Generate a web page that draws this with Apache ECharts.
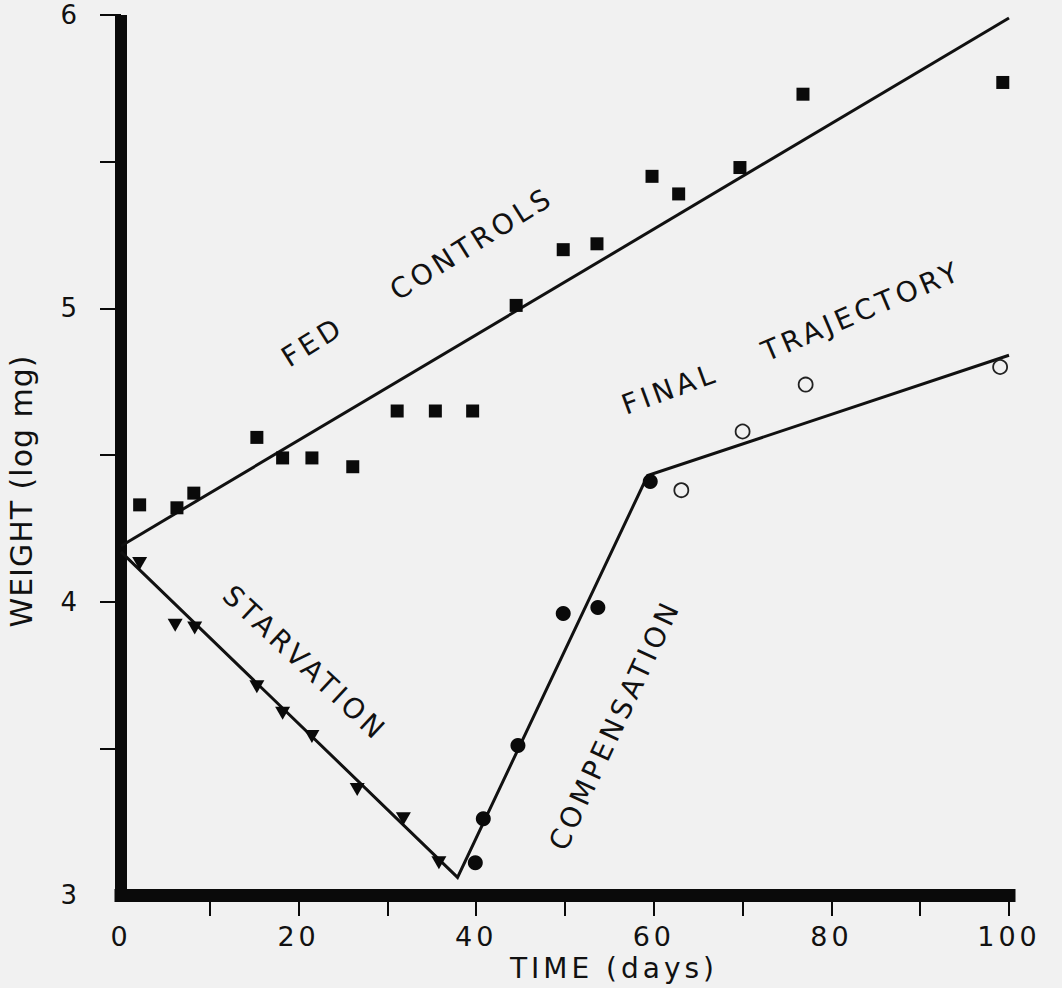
<!DOCTYPE html>
<html>
<head>
<meta charset="utf-8">
<script src="https://cdn.jsdelivr.net/npm/echarts@6/dist/echarts.min.js"></script>
<style>
html,body{margin:0;padding:0;background:#f1f1f1;}
#chart{width:1062px;height:988px;}
#chart text{letter-spacing:4px;}
#chart text[style*="30px"]{letter-spacing:1px;}
</style>
</head>
<body>
<div id="chart"></div>
<script>
// Axis ticks / labels
const xTickLabels = [0, 20, 40, 60, 80, 100];
const xTicks = [10, 20, 30, 40, 50, 60, 70, 80, 90, 100];
const yTickLabels = [3, 4, 5, 6];
const yTicks = [3.5, 4, 4.5, 5, 5.5, 6];

// Fed controls (squares)
const fedDays   = [2.1, 6.3, 8.2, 15.3, 18.2, 21.5, 26.1, 31.1, 35.4, 39.6, 44.5, 49.8, 53.6, 59.8, 62.8, 69.7, 76.8, 99.3];
const fedWeight = [4.33, 4.32, 4.37, 4.56, 4.49, 4.49, 4.46, 4.65, 4.65, 4.65, 5.01, 5.20, 5.22, 5.45, 5.39, 5.48, 5.73, 5.77];
// Starvation (down triangles)
const starvDays   = [2.1, 6.1, 8.3, 15.3, 18.2, 21.5, 26.6, 31.8, 35.8];
const starvWeight = [4.13, 3.92, 3.91, 3.71, 3.62, 3.54, 3.36, 3.26, 3.11];
// Compensation (filled circles)
const compDays   = [39.9, 40.8, 44.7, 49.8, 53.7, 59.6];
const compWeight = [3.11, 3.26, 3.51, 3.96, 3.98, 4.41];
// Final trajectory (open circles)
const finalDays   = [63.1, 70.0, 77.1, 99.0];
const finalWeight = [4.38, 4.58, 4.74, 4.80];
// Fitted lines
const fedLineDays   = [0, 100];
const fedLineWeight = [4.19, 5.99];
const trajLineDays   = [0, 37.9, 59.3, 100];
const trajLineWeight = [4.17, 3.06, 4.43, 4.84];
// Annotations
const noteText   = ['FED', 'CONTROLS', 'FINAL', 'TRAJECTORY', 'STARVATION', 'COMPENSATION'];
const noteDays   = [21.6, 39.5, 61.8, 83.4, 20.7, 55.6];
const noteWeight = [4.885, 5.22, 4.725, 4.99, 3.79, 3.58];
const noteAngle  = [32, 32, 20, 23, -43, 65];

const zip = (a, b) => a.map((v, i) => [v, b[i]]);
const FONT = 'DejaVu Sans';
const INK = '#111';
const MARK = '#0a0a0a';

const chart = echarts.init(document.getElementById('chart'), null, {renderer: 'svg'});
chart.setOption({
  backgroundColor: '#f1f1f1',
  animation: false,
  grid: {left: 121, right: 53, top: 15, bottom: 93, containLabel: false, outerBoundsMode: 'none'},
  xAxis: {
    type: 'value', min: 0, max: 100, interval: 10,
    name: 'TIME (days)', nameLocation: 'middle', nameGap: 58,
    nameTextStyle: {fontFamily: FONT, fontSize: 28, color: INK, padding: [0, 0, 0, 98]},
    axisLine: {lineStyle: {color: MARK, width: 13, cap: 'square'}},
    axisTick: {show: true, inside: false, length: 21, customValues: xTicks, lineStyle: {color: MARK, width: 2}},
    axisLabel: {customValues: xTickLabels, margin: 28, fontFamily: FONT, fontSize: 27, color: INK},
    splitLine: {show: false}
  },
  yAxis: {
    type: 'value', min: 3, max: 6, interval: 0.5,
    name: 'WEIGHT (log mg)', nameLocation: 'middle', nameGap: 85, nameRotate: 90,
    nameTextStyle: {fontFamily: FONT, fontSize: 30, color: INK, padding: [0, 72, 0, 0]},
    axisLine: {lineStyle: {color: MARK, width: 12, cap: 'butt'}},
    axisTick: {show: true, inside: false, length: 21, customValues: yTicks, lineStyle: {color: MARK, width: 2}},
    axisLabel: {customValues: yTickLabels, margin: 40, fontFamily: FONT, fontSize: 26, color: INK,
                lineHeight: 26, padding: [12, 0, 0, 0]},
    splitLine: {show: false}
  },
  series: [
    {type: 'line', data: zip(fedLineDays, fedLineWeight), symbol: 'none', silent: true,
     lineStyle: {color: INK, width: 3}, z: 2},
    {type: 'line', data: zip(trajLineDays, trajLineWeight), symbol: 'none', silent: true,
     lineStyle: {color: INK, width: 3, join: 'miter'}, z: 2},
    {type: 'scatter', data: zip(fedDays, fedWeight), symbol: 'rect', symbolSize: 13,
     itemStyle: {color: MARK, opacity: 1}, z: 3},
    {type: 'scatter', data: zip(starvDays, starvWeight), symbol: 'triangle', symbolRotate: 180, symbolSize: [15, 13],
     itemStyle: {color: MARK, opacity: 1}, z: 3},
    {type: 'scatter', data: zip(compDays, compWeight), symbol: 'circle', symbolSize: 15,
     itemStyle: {color: MARK, opacity: 1}, z: 3},
    {type: 'scatter', data: zip(finalDays, finalWeight), symbol: 'circle', symbolSize: 14,
     itemStyle: {color: '#f1f1f1', borderColor: '#222', borderWidth: 1.8, opacity: 1}, z: 3},
    {type: 'scatter', silent: true, symbolSize: 0, z: 4,
     itemStyle: {opacity: 1},
     data: noteText.map((t, i) => ({name: t, value: [noteDays[i], noteWeight[i]], label: {rotate: noteAngle[i]}})),
     label: {show: true, position: 'inside', formatter: '{b}', fontFamily: FONT, fontSize: 28, color: INK, opacity: 1},
     emphasis: {disabled: true}}
  ]
});
</script>
</body>
</html>
